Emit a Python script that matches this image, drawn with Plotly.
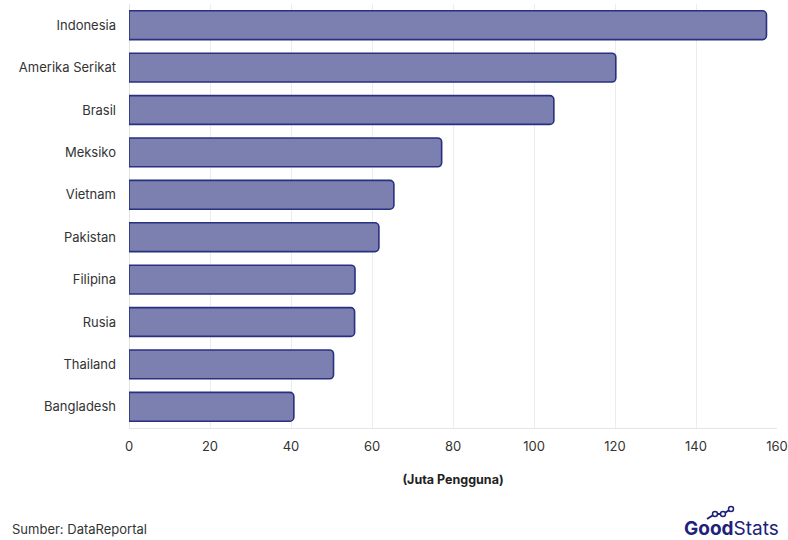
import plotly.graph_objects as go

countries = ["Indonesia", "Amerika Serikat", "Brasil", "Meksiko", "Vietnam",
             "Pakistan", "Filipina", "Rusia", "Thailand", "Bangladesh"]
users = [157.4, 120.2, 104.9, 77.2, 65.4, 61.7, 55.8, 55.7, 50.5, 40.7]
x_ticks = [0, 20, 40, 60, 80, 100, 120, 140, 160]

FONT = "Inter, 'Open Sans', sans-serif"
PW, PH, L, B = 648, 424, 129, 112

fig = go.Figure(go.Bar(
    x=users, y=countries, orientation="h",
    marker=dict(color="#7b80b1", line=dict(color="#28307f", width=1.6)),
    width=0.68,
))

fig.update_layout(
    width=788, height=540,
    margin=dict(l=L, r=788 - L - PW, t=540 - B - PH, b=B, autoexpand=False),
    plot_bgcolor="white", paper_bgcolor="white",
    barcornerradius=4,
    showlegend=False,
    font=dict(family=FONT, size=13, color="#333333"),
    xaxis=dict(range=[0, 160], tickvals=x_ticks, showgrid=True, gridcolor="#ececec",
               gridwidth=1, zeroline=True, zerolinecolor="#e3e3e3", zerolinewidth=1,
               showline=True, linecolor="#e6e6e6", ticks="", ticklabelstandoff=6,
               automargin=False,
               tickfont=dict(size=13, color="#333333"),
               title=dict(text="<b>(Juta Pengguna)</b>", standoff=22,
                          font=dict(size=12.5, color="#222222"))),
    yaxis=dict(autorange="reversed", showgrid=False, ticks="", ticklabelstandoff=12,
               automargin=False,
               tickfont=dict(size=13, color="#333333")),
)

def px_x(px):
    return (px - L) / PW

def px_y(py):
    return (540 - B - py) / PH

fig.add_annotation(text="Sumber: DataReportal", xref="paper", yref="paper",
                   x=px_x(10), y=px_y(529), xanchor="left", yanchor="middle",
                   showarrow=False, font=dict(size=13, color="#333333"))
fig.add_annotation(text="<b>Good</b>Stats", xref="paper", yref="paper",
                   x=px_x(781), y=px_y(528), xanchor="right", yanchor="middle",
                   showarrow=False, font=dict(size=19, color="#1e2278"))
# small trend icon above logo
pts = [(707, 519), (715, 514), (723, 514), (731, 509)]
fig.add_shape(type="path", xref="paper", yref="paper",
              path="M " + " L ".join("%f %f" % (px_x(a), px_y(b)) for a, b in pts),
              line=dict(color="#1e2278", width=2))
for a, b in pts[1:]:
    fig.add_shape(type="circle", xref="paper", yref="paper",
                  x0=px_x(a - 2.5), x1=px_x(a + 2.5),
                  y0=px_y(b + 2.5), y1=px_y(b - 2.5),
                  line=dict(color="#1e2278", width=1.5), fillcolor="white")

fig.write_html("out.html")
